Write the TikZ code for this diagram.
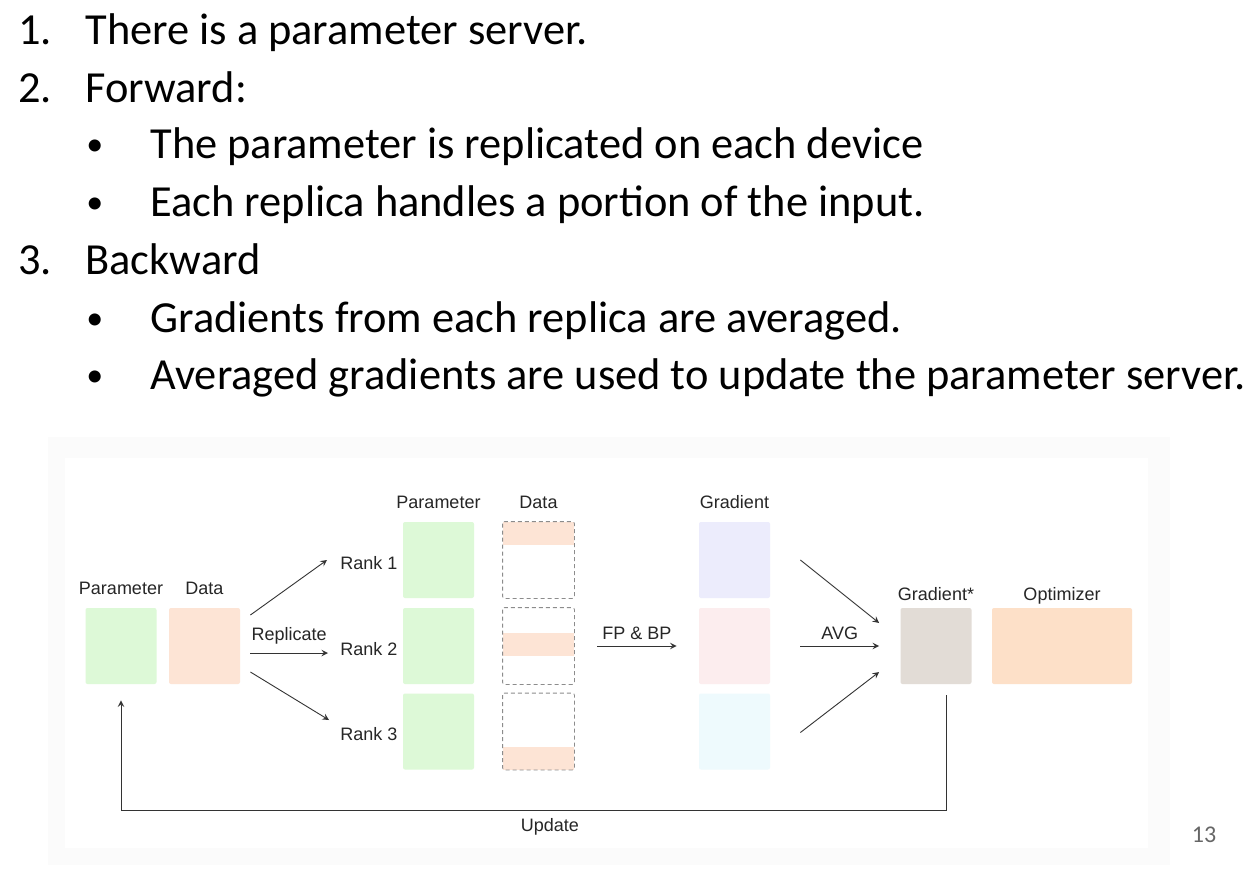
\documentclass[tikz,border=0pt]{standalone}
\usepackage{fontspec}
\setmainfont{Carlito}
\newfontfamily\diagfont{Liberation Sans}
\usetikzlibrary{positioning}

\definecolor{paramgreen}{RGB}{221,249,215}
\definecolor{datapeach}{RGB}{253,228,213}
\definecolor{gradblue}{RGB}{236,236,252}
\definecolor{gradpink}{RGB}{252,237,238}
\definecolor{gradcyan}{RGB}{238,250,253}
\definecolor{gradavg}{RGB}{226,220,214}
\definecolor{optpeach}{RGB}{253,224,200}

\begin{document}
\begin{tikzpicture}[x=0.5pt,y=-0.5pt,>=stealth,
    blk/.style={inner sep=0pt,minimum width=35.5pt,minimum height=38pt,rounded corners=1pt},
    lbl/.style={font=\diagfont\fontsize{9}{10}\selectfont,inner sep=1pt,text=black!85},
    item/.style={anchor=base west,inner sep=0pt,font=\fontsize{22.2}{26}\selectfont},
    dot/.style={anchor=base west,inner sep=0pt,font=\fontsize{17}{20}\selectfont},
    dashbox/.style={draw=black!45,line width=0.4pt,dash pattern=on 2pt off 1.5pt,rounded corners=1pt},
    conn/.style={->,line width=0.45pt,black!80}]
    \useasboundingbox (0,0) rectangle (1250,869);
    % slide list
    \node[item] (n1) at (18,44)   {1.};
    \node[item] (t1) at (85,44)   {There is a parameter server.};
    \node[item] (n2) at (18,102)  {2.};
    \node[item] (t2) at (85,102)  {Forward:};
    \node[dot]  (b1) at (86,155)  {•};
    \node[item] (t3) at (150,158) {The parameter is replicated on each device};
    \node[dot]  (b2) at (86,213)  {•};
    \node[item] (t4) at (150,216) {Each replica handles a portion of the input.};
    \node[item] (n3) at (18,274)  {3.};
    \node[item] (t5) at (85,274)  {Backward};
    \node[dot]  (b3) at (86,329)  {•};
    \node[item] (t6) at (150,332) {Gradients from each replica are averaged.};
    \node[dot]  (b4) at (86,386)  {•};
    \node[item] (t7) at (150,389) {Averaged gradients are used to update the parameter server.};

    % diagram panel
    \fill[black!1.5] (48,437) rectangle (1170,865);
    \fill[white] (65,458) rectangle (1148,848);

    \node[blk,fill=paramgreen] (param) at (121,646)   {};
    \node[blk,fill=datapeach]  (data)  at (204.5,646) {};
    \node[lbl,anchor=base] (paramlbl) at (121,594)   {Parameter};
    \node[lbl,anchor=base] (datalbl)  at (204.5,594) {Data};

    \node[lbl,anchor=west] (rank1) at (338,563) {Rank 1};
    \node[lbl,anchor=west] (rank2) at (338,649) {Rank 2};
    \node[lbl,anchor=west] (rank3) at (338,734) {Rank 3};

    \node[blk,fill=paramgreen] (p1) at (438.5,560) {};
    \node[blk,fill=paramgreen] (p2) at (438.5,646) {};
    \node[blk,fill=paramgreen] (p3) at (438.5,731.5) {};
    \node[blk] (d1) at (538.5,560) {};
    \node[blk] (d2) at (538.5,646) {};
    \node[blk] (d3) at (538.5,731.5) {};
    \fill[datapeach] (d1.north west) rectangle ([shift={(0,23)}]d1.north east);
    \fill[datapeach] ([shift={(0,-13)}]d2.west) rectangle ([shift={(0,10)}]d2.east);
    \fill[datapeach] ([shift={(0,-23)}]d3.south west) rectangle (d3.south east);
    \draw[dashbox] (d1.north west) rectangle (d1.south east);
    \draw[dashbox] (d2.north west) rectangle (d2.south east);
    \draw[dashbox] (d3.north west) rectangle (d3.south east);
    \node[lbl,anchor=base] (plbl) at (438.5,508) {Parameter};
    \node[lbl,anchor=base] (dlbl) at (538.5,508) {Data};

    \node[blk,fill=gradblue] (g1) at (734.5,560)   {};
    \node[blk,fill=gradpink] (g2) at (734.5,646)   {};
    \node[blk,fill=gradcyan] (g3) at (734.5,731.5) {};
    \node[lbl,anchor=base] (glbl) at (734.5,508) {Gradient};

    \node[blk,fill=gradavg] (gstar) at (936,646) {};
    \node[blk,fill=optpeach,minimum width=70pt] (opt) at (1062,646) {};
    \node[lbl,anchor=base] (gstarlbl) at (936,600)  {Gradient*};
    \node[lbl,anchor=base] (optlbl)   at (1062,600) {Optimizer};

    \draw[conn] ([shift={(10,-31)}]data.east) -- ([shift={(-11,-3)}]rank1.west);
    \draw[conn] ([shift={(10,7)}]data.east) -- node[lbl,above=3pt] {Replicate} ([shift={(-10,4)}]rank2.west);
    \draw[conn] ([shift={(10,26)}]data.east) -- ([shift={(-9,-14)}]rank3.west);
    \draw[conn] ([shift={(23,0)}]d2.east) -- node[lbl,above=2pt] {FP \& BP} ([shift={(-22,0)}]g2.west);
    \draw[conn] ([shift={(30,0)}]g1.east) -- ([shift={(-21,-23)}]gstar.west);
    \draw[conn] ([shift={(30,0)}]g2.east) -- node[lbl,above=2pt] {AVG} ([shift={(-21,0)}]gstar.west);
    \draw[conn] ([shift={(30,1)}]g3.east) -- ([shift={(-21,26)}]gstar.west);
    \draw[conn] ([shift={(10,11)}]gstar.south) -- ++(0,115)
        -| node[lbl,below=3pt,pos=0.24] {Update} ([shift={(0,16)}]param.south);

    \node[font=\fontsize{12}{14}\selectfont,text=black!60] (page) at (1204,835) {13};
\end{tikzpicture}
\end{document}
